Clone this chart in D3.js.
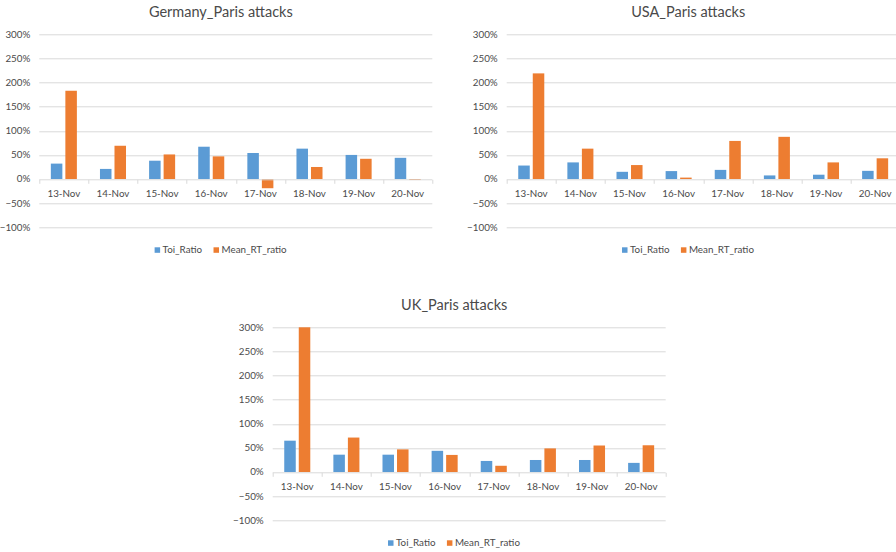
<!DOCTYPE html>
<html>
<head>
<meta charset="utf-8">
<script src="https://cdn.jsdelivr.net/npm/d3@7"></script>
<style>
  html, body { margin: 0; padding: 0; background: #fff; }
  svg { display: block; }
  text { font-family: Lato, "Liberation Sans", sans-serif; fill: #4a4a4a; }
</style>
</head>
<body>
<svg id="chart" width="896" height="552"></svg>
<script>
// Shared categories and axis ticks
const categories = ["13-Nov", "14-Nov", "15-Nov", "16-Nov", "17-Nov", "18-Nov", "19-Nov", "20-Nov"];
const yTicks = [-1, -0.5, 0, 0.5, 1, 1.5, 2, 2.5, 3];
const seriesNames = ["Toi_Ratio", "Mean_RT_ratio"];
const seriesColors = ["#5B9BD5", "#ED7D31"];

// Germany
const germanyToi = [0.32, 0.21, 0.38, 0.67, 0.54, 0.63, 0.50, 0.44];
const germanyRT  = [1.83, 0.69, 0.51, 0.47, -0.19, 0.25, 0.42, -0.02];

// USA
const usaToi = [0.28, 0.345, 0.15, 0.165, 0.19, 0.075, 0.09, 0.17];
const usaRT  = [2.19, 0.63, 0.29, 0.03, 0.79, 0.875, 0.345, 0.43];

// UK
const ukToi = [0.65, 0.36, 0.36, 0.44, 0.23, 0.25, 0.25, 0.19];
const ukRT  = [3.00, 0.715, 0.47, 0.355, 0.13, 0.49, 0.55, 0.555];

const svg = d3.select("#chart");
const plotW = 393, plotH = 193;
const fmtPct = d3.format(".0%");

function drawChart(left, top, title, toi, rt) {
  const g = svg.append("g").attr("transform", `translate(${left},${top})`);

  const x = d3.scaleBand().domain(categories).range([0, plotW]).padding(0);
  const bw = x.bandwidth();
  const xs = d3.scaleBand().domain(seriesNames)
    .range([bw * 0.235, bw * 0.765]).paddingInner(0.207).paddingOuter(0);
  const y = d3.scaleLinear().domain([-1, 3]).range([plotH, 0]);

  // horizontal gridlines
  g.append("g").selectAll("line").data(yTicks.filter(t => t !== 0)).join("line")
    .attr("x1", 0).attr("x2", plotW)
    .attr("y1", d => Math.round(y(d)) + 0.5).attr("y2", d => Math.round(y(d)) + 0.5)
    .attr("stroke", "#D9D9D9").attr("stroke-width", 1);

  // y labels
  g.append("g").selectAll("text").data(yTicks).join("text")
    .attr("x", -9).attr("y", d => y(d)).attr("dy", "0.35em")
    .attr("text-anchor", "end").attr("font-size", 9.8)
    .text(d => fmtPct(d));

  // bars
  const rows = categories.map((c, i) => ({ c, vals: [toi[i], rt[i]] }));
  const grp = g.append("g").selectAll("g").data(rows).join("g")
    .attr("transform", d => `translate(${x(d.c)},0)`);
  grp.selectAll("rect").data(d => d.vals.map((v, k) => ({ v, k }))).join("rect")
    .attr("x", d => xs(seriesNames[d.k]))
    .attr("width", xs.bandwidth())
    .attr("y", d => y(Math.max(0, d.v)))
    .attr("height", d => Math.abs(y(d.v) - y(0)))
    .attr("fill", d => seriesColors[d.k]);

  // category axis at zero
  const xAxis = g.append("g").attr("transform", `translate(0,${Math.round(y(0)) + 0.5})`);
  xAxis.append("line").attr("x1", 0).attr("x2", plotW).attr("stroke", "#D9D9D9");
  xAxis.selectAll("line.tick").data(d3.range(categories.length + 1)).join("line")
    .attr("class", "tick")
    .attr("x1", i => Math.round(i * bw) + 0.5).attr("x2", i => Math.round(i * bw) + 0.5)
    .attr("y1", 0).attr("y2", 4).attr("stroke", "#D9D9D9");
  xAxis.selectAll("text").data(categories).join("text")
    .attr("x", d => x(d) + bw / 2).attr("y", 17)
    .attr("text-anchor", "middle").attr("font-size", 9.8)
    .text(d => d);

  // title
  const cx = plotW / 2 - 15;
  g.append("text").attr("x", cx).attr("y", -22).attr("dy", "0.35em")
    .attr("text-anchor", "middle").attr("font-size", 14.5)
    .text(title);

  // legend
  const leg = g.append("g").attr("transform", `translate(0,${y(0) + 71})`);
  const items = leg.selectAll("g").data(seriesNames).join("g");
  items.append("rect").attr("width", 5.5).attr("height", 5.5).attr("y", -2.75)
    .attr("fill", (d, i) => seriesColors[i]);
  items.append("text").attr("x", 8).attr("dy", "0.35em").attr("font-size", 9.8).text(d => d);
  let offs = 0;
  const widths = [];
  items.each(function () { widths.push(this.getBBox().width); });
  const gap = 11;
  const total = d3.sum(widths) + gap * (widths.length - 1);
  items.attr("transform", (d, i) => {
    const px = cx - total / 2 + offs;
    offs += widths[i] + gap;
    return `translate(${px},0)`;
  });
}

drawChart(39.3, 34.3, "Germany_Paris attacks", germanyToi, germanyRT);
drawChart(506.7, 34.3, "USA_Paris attacks", usaToi, usaRT);
drawChart(272.7, 327.3, "UK_Paris attacks", ukToi, ukRT);
</script>
</body>
</html>
